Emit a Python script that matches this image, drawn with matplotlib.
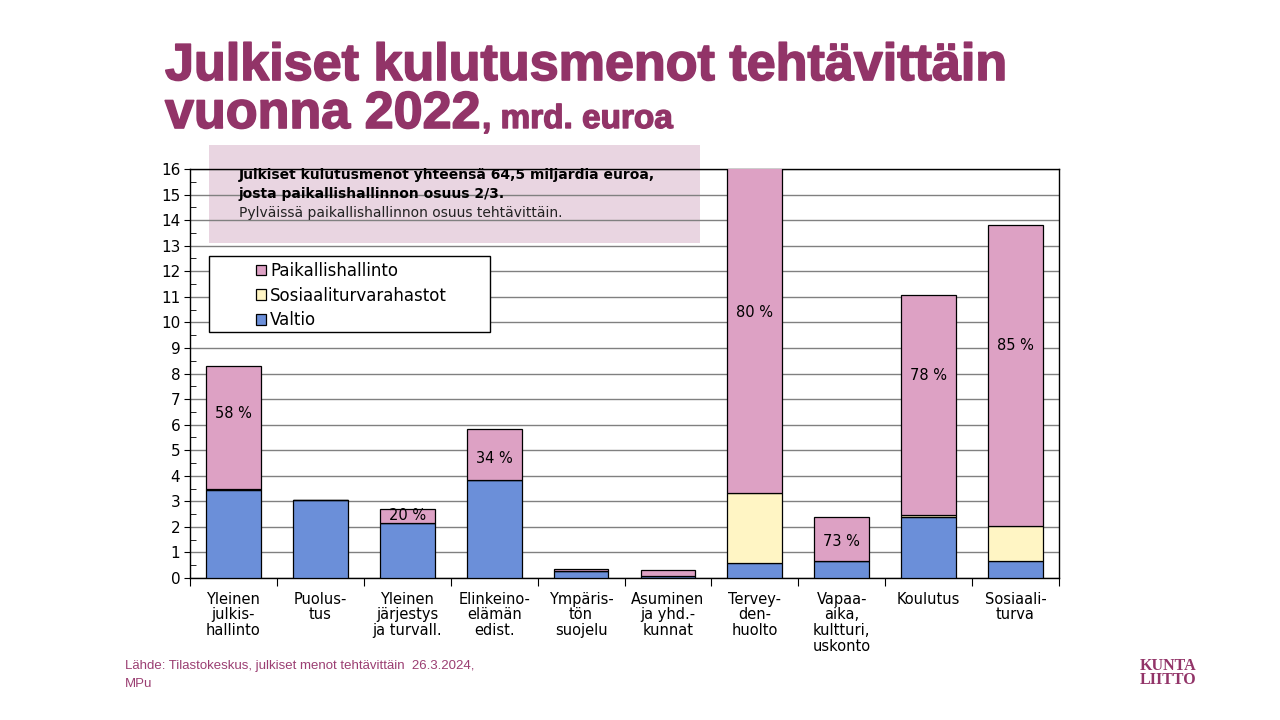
import matplotlib
matplotlib.use("Agg")
import matplotlib.pyplot as plt
import matplotlib.patheffects as pe
from matplotlib.patches import Rectangle
import numpy as np

# ── data (mrd. euroa, 2022) ─────────────────────────────────────────
CATEGORIES = [
    "Yleinen\njulkis-\nhallinto",
    "Puolus-\ntus",
    "Yleinen\njärjestys\nja turvall.",
    "Elinkeino-\nelämän\nedist.",
    "Ympäris-\ntön\nsuojelu",
    "Asuminen\nja yhd.-\nkunnat",
    "Tervey-\nden-\nhuolto",
    "Vapaa-\naika,\nkultturi,\nuskonto",
    "Koulutus",
    "Sosiaali-\nturva",
]
VALTIO = [3.45, 3.05, 2.15, 3.83, 0.27, 0.08, 0.57, 0.65, 2.37, 0.65]
SOSIAALITURVA = [0.05, 0.0, 0.0, 0.0, 0.0, 0.0, 2.74, 0.0, 0.09, 1.37]
PAIKALLIS = [4.78, 0.0, 0.55, 2.0, 0.07, 0.22, 13.24, 1.72, 8.61, 11.78]
PCT_LABELS = ["58 %", None, "20 %", "34 %", None, None, "80 %", "73 %", "78 %", "85 %"]

# label heights inside the bars (layout, not data)
LABEL_Y = [6.45, None, 2.43, 4.66, None, None, 10.37, 1.41, 7.94, 9.08]

C_PAIK = "#DDA1C4"
C_SOS = "#FFF5C4"
C_VALTIO = "#6B8FD9"
C_TITLE = "#923468"
C_BOX = "#E9D5E1"

plt.rcParams["font.family"] = ["DejaVu Sans"]

fig = plt.figure(figsize=(12.8, 7.2), dpi=100)
fig.patch.set_facecolor("white")

# pink note box behind the axes
fig.patches.append(Rectangle((209 / 1280, 1 - 243 / 720), (700 - 209) / 1280, (243 - 145) / 720,
                             transform=fig.transFigure, facecolor=C_BOX, edgecolor="none",
                             zorder=-1))

ax = fig.add_axes([190 / 1280, 1 - 578 / 720, 869 / 1280, 409 / 720])
ax.set_facecolor("none")

x = np.arange(len(CATEGORIES))
valtio = np.array(VALTIO)
sos = np.array(SOSIAALITURVA)
paik = np.array(PAIKALLIS)
w = 0.63
ax.bar(x, valtio, w, color=C_VALTIO, edgecolor="black", linewidth=0.9, zorder=3, label="Valtio")
ax.bar(x, sos, w, bottom=valtio, color=C_SOS, edgecolor="black", linewidth=0.9, zorder=3,
       label="Sosiaaliturvarahastot")
ax.bar(x, paik, w, bottom=valtio + sos, color=C_PAIK, edgecolor="black", linewidth=0.9, zorder=3,
       label="Paikallishallinto")

for xi, lab, ly in zip(x, PCT_LABELS, LABEL_Y):
    if lab:
        ax.text(xi, ly, lab, ha="center", va="center", fontsize=10.5, zorder=4)

ax.set_xlim(-0.5, len(CATEGORIES) - 0.5)
ax.set_ylim(0, 16)
ax.set_yticks(np.arange(0, 17, 1))
ax.set_yticks(np.arange(0.5, 16, 1), minor=True)
ax.tick_params(axis="y", which="major", direction="out", length=4, labelsize=11, pad=3)
ax.tick_params(axis="y", which="minor", direction="in", length=4)
ax.yaxis.grid(True, which="major", color="#808080", linewidth=1, zorder=1)
ax.set_axisbelow(True)

ax.set_xticks(np.arange(-0.5, len(CATEGORIES), 1))
ax.set_xticklabels([])
ax.set_xticks(x, minor=True)
ax.set_xticklabels(CATEGORIES, minor=True, fontsize=10.5, linespacing=1.05, va="top")
ax.tick_params(axis="x", which="major", direction="out", length=6)
ax.tick_params(axis="x", which="minor", length=0, pad=10)

for s in ax.spines.values():
    s.set_color("black")
    s.set_linewidth(1)

# legend with Excel-like frame
ax.add_patch(Rectangle((0.022, 0.601), 0.323, 0.186, transform=ax.transAxes,
                       facecolor="white", edgecolor="black", linewidth=1, zorder=5))
handles, labels = ax.get_legend_handles_labels()
leg = ax.legend(handles[::-1], labels[::-1], loc="upper left", bbox_to_anchor=(0.068, 0.789),
                frameon=False, fontsize=12, handlelength=0.6, handleheight=0.6,
                handletextpad=0.25, labelspacing=0.4, borderaxespad=0)
leg.set_zorder(6)

# note text
fig.text(239 / 1280, 1 - 175 / 720, "Julkiset kulutusmenot yhteensä 64,5 miljardia euroa,",
         fontsize=10, fontweight="bold", va="center")
fig.text(239 / 1280, 1 - 194 / 720, "josta paikallishallinnon osuus 2/3.",
         fontsize=10, fontweight="bold", va="center")
fig.text(239 / 1280, 1 - 213 / 720, "Pylväissä paikallishallinnon osuus tehtävittäin.",
         fontsize=10, va="center", color="#222222")

# title
stroke = [pe.withStroke(linewidth=1.2, foreground=C_TITLE)]
fig.text(165 / 1280, 1 - 80 / 720, "Julkiset kulutusmenot tehtävittäin", family="Liberation Sans",
         fontweight="bold", fontsize=37.5, color=C_TITLE, va="baseline", path_effects=stroke)
t2 = fig.text(165 / 1280, 1 - 128 / 720, "vuonna 2022", family="Liberation Sans",
              fontweight="bold", fontsize=37.5, color=C_TITLE, va="baseline", path_effects=stroke)
fig.canvas.draw()
bb = t2.get_window_extent(renderer=fig.canvas.get_renderer())
fig.text(bb.x1 / 1280 + 0.001, 1 - 128 / 720, ", mrd. euroa", family="Liberation Sans",
         fontweight="bold", fontsize=24, color=C_TITLE, va="baseline",
         path_effects=[pe.withStroke(linewidth=1.0, foreground=C_TITLE)])

# footer
fig.text(125 / 1280, 1 - 666 / 720, "Lähde: Tilastokeskus, julkiset menot tehtävittäin  26.3.2024,",
         family="Liberation Sans", fontsize=9.5, color="#9B3E72", va="center")
fig.text(125 / 1280, 1 - 684 / 720, "MPu", family="Liberation Sans", fontsize=9.5,
         color="#9B3E72", va="center")
fig.text(1168 / 1280, 1 - 673 / 720, "KUNTA\nLIITTO", family="Liberation Serif", fontsize=11.5,
         fontweight="bold", color=C_TITLE, ha="center", va="center", linespacing=0.75)

fig.savefig("out.png", dpi=100)
